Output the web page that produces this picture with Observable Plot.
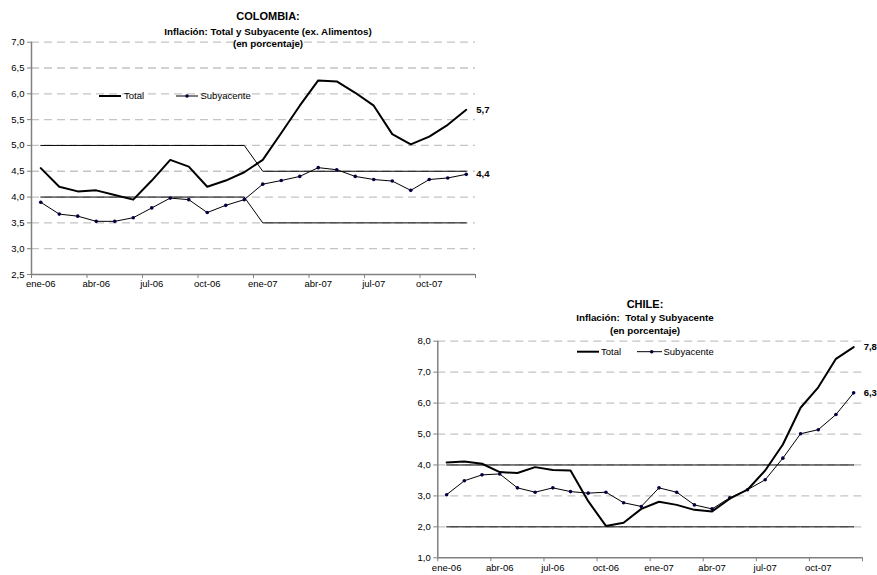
<!DOCTYPE html>
<html><head><meta charset="utf-8">
<script src="https://cdn.jsdelivr.net/npm/d3@7"></script>
<script src="https://cdn.jsdelivr.net/npm/@observablehq/plot@0.6"></script>
<style>
body{margin:0;background:#fff;width:877px;height:575px;position:relative;overflow:hidden;font-family:"Liberation Sans",Arial,sans-serif}
.panel{position:absolute}
.overlay{position:absolute;left:0;top:0}
</style></head><body>
<div id="col" class="panel" style="left:0;top:0"></div>
<div id="chi" class="panel" style="left:380px;top:290px"></div>
<svg class="overlay" width="877" height="575" font-family="Liberation Sans, Arial, sans-serif">
  <g text-anchor="middle" font-weight="bold" fill="#000">
    <text x="268" y="20" font-size="11">COLOMBIA:</text>
    <text x="268" y="35" font-size="9.8">Inflación: Total y Subyacente (ex. Alimentos)</text>
    <text x="268" y="47" font-size="9.8">(en porcentaje)</text>
    <text x="645" y="308.3" font-size="11">CHILE:</text>
    <text x="645" y="320.7" font-size="9.8" style="white-space:pre">Inflación:  Total y Subyacente</text>
    <text x="645" y="334" font-size="9.8">(en porcentaje)</text>
  </g>
  <g font-size="9.5" fill="#000">
    <line x1="99" y1="96" x2="121" y2="96" stroke="#000" stroke-width="2"/>
    <text x="124" y="99.3">Total</text>
    <line x1="176" y1="96" x2="198" y2="96" stroke="#000" stroke-width="1"/>
    <circle cx="187" cy="96" r="1.8" fill="#000040"/>
    <text x="200.5" y="99.3">Subyacente</text>
    <line x1="577" y1="351.7" x2="599" y2="351.7" stroke="#000" stroke-width="2"/>
    <text x="601" y="355">Total</text>
    <line x1="637" y1="351.7" x2="662" y2="351.7" stroke="#000" stroke-width="1"/>
    <circle cx="651.7" cy="351.7" r="1.8" fill="#000040"/>
    <text x="663.5" y="355">Subyacente</text>
  </g>
</svg>
<script>
const months = ["ene-06","feb-06","mar-06","abr-06","may-06","jun-06","jul-06","ago-06","sep-06","oct-06","nov-06","dic-06",
                "ene-07","feb-07","mar-07","abr-07","may-07","jun-07","jul-07","ago-07","sep-07","oct-07","nov-07","dic-07"];

const colTotal = [4.56,4.20,4.11,4.13,4.04,3.95,4.32,4.72,4.59,4.20,4.32,4.48,
                  4.72,5.24,5.77,6.26,6.24,6.02,5.77,5.22,5.02,5.17,5.40,5.69];
const colSub   = [3.90,3.67,3.63,3.53,3.53,3.60,3.79,3.98,3.95,3.70,3.84,3.95,
                  4.25,4.32,4.40,4.57,4.53,4.40,4.34,4.31,4.13,4.34,4.37,4.44];
const colUpper = [5,5,5,5,5,5,5,5,5,5,5,5, 4.5,4.5,4.5,4.5,4.5,4.5,4.5,4.5,4.5,4.5,4.5,4.5];
const colLower = [4,4,4,4,4,4,4,4,4,4,4,4, 3.5,3.5,3.5,3.5,3.5,3.5,3.5,3.5,3.5,3.5,3.5,3.5];
const colYTicks = [2.5,3.0,3.5,4.0,4.5,5.0,5.5,6.0,6.5,7.0];

const chiTotal = [4.08,4.11,4.04,3.77,3.74,3.93,3.84,3.82,2.83,2.03,2.13,2.58,
                  2.81,2.71,2.55,2.50,2.91,3.20,3.82,4.66,5.85,6.51,7.43,7.81];
const chiSub   = [3.04,3.49,3.68,3.71,3.26,3.12,3.26,3.14,3.09,3.12,2.78,2.66,
                  3.26,3.12,2.71,2.58,2.94,3.20,3.52,4.22,5.01,5.14,5.63,6.33];
const chiUpper = [4,4,4,4,4,4,4,4,4,4,4,4,4,4,4,4,4,4,4,4,4,4,4,4];
const chiLower = [2,2,2,2,2,2,2,2,2,2,2,2,2,2,2,2,2,2,2,2,2,2,2,2];
const chiYTicks = [1,2,3,4,5,6,7,8];

const fmt = d => d.toFixed(1).replace(".", ",");
const labelIdx = months.map((m, i) => i).filter(i => i % 3 === 0);
const bounds = d3.range(-0.5, months.length, 3);

function chart({width, height, margins, yTicks, total, sub, upper, lower}) {
  const yMin = yTicks[0];
  const last = total.length - 1;
  const ends = [{i: last, v: total[last]}, {i: last, v: sub[last]}];
  return Plot.plot({
    width, height,
    marginLeft: margins[0], marginRight: margins[1], marginTop: margins[2], marginBottom: margins[3],
    style: {fontFamily: "Liberation Sans, Arial, sans-serif", fontSize: "9.5px", overflow: "visible", background: "transparent", color: "#000"},
    x: {domain: [-0.5, months.length - 0.5], axis: null, label: null},
    y: {domain: [yMin, yTicks[yTicks.length - 1]], axis: null, label: null},
    marks: [
      Plot.gridY(yTicks.filter(t => t > yMin), {stroke: "#c4c4c4", strokeOpacity: 1, strokeWidth: 1.3, strokeDasharray: "8,5"}),
      Plot.lineY(upper, {x: (d, i) => i, y: d => d, stroke: "#000", strokeWidth: 1}),
      Plot.lineY(lower, {x: (d, i) => i, y: d => d, stroke: "#000", strokeWidth: 1}),
      Plot.ruleY([yMin], {stroke: "#808080", strokeWidth: 1.5}),
      Plot.ruleX([-0.5], {stroke: "#808080", strokeWidth: 1.5}),
      Plot.axisY(yTicks, {tickFormat: fmt, tickSize: 4, tickPadding: 3, stroke: "#808080", fill: "#000", label: null}),
      Plot.axisX(bounds, {tickFormat: () => "", tickSize: 4, stroke: "#808080", label: null}),
      Plot.axisX(labelIdx, {tickFormat: i => months[i], tickSize: 0, tickPadding: 6, fill: "#000", label: null}),
      Plot.lineY(sub, {x: (d, i) => i, y: d => d, stroke: "#000", strokeWidth: 1}),
      Plot.dot(sub, {x: (d, i) => i, y: d => d, r: 1.8, fill: "#000040", stroke: "none"}),
      Plot.lineY(total, {x: (d, i) => i, y: d => d, stroke: "#000", strokeWidth: 2, strokeLinejoin: "round"}),
      Plot.text(ends, {x: "i", y: "v", text: d => fmt(d.v), dx: 10, textAnchor: "start", fontWeight: "bold", fill: "#000"})
    ]
  });
}

document.getElementById("col").append(chart({
  width: 500, height: 300, margins: [31, 25, 41.7, 26],
  yTicks: colYTicks, total: colTotal, sub: colSub, upper: colUpper, lower: colLower
}));
document.getElementById("chi").append(chart({
  width: 497, height: 285, margins: [57.3, 15, 50.7, 17.7],
  yTicks: chiYTicks, total: chiTotal, sub: chiSub, upper: chiUpper, lower: chiLower
}));
</script>
</body></html>
